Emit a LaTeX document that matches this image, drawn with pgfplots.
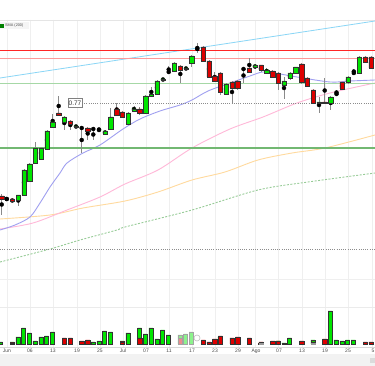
\documentclass[border=0pt]{standalone}
\usepackage{pgfplots}
\pgfplotsset{compat=1.18}
\usepackage{pgfplotstable}
\usepackage{fontspec}
\setmainfont{Liberation Sans}
\definecolor{gup}{HTML}{00E600}
\definecolor{rdn}{HTML}{DD0000}
\definecolor{edge}{HTML}{333333}
\definecolor{wickc}{HTML}{8A8A8A}
\definecolor{smablue}{HTML}{A0A0F0}
\definecolor{smapink}{HTML}{FFB8D8}
\definecolor{smaorange}{HTML}{FFDA9E}
\definecolor{smagreen}{HTML}{98CC98}
\definecolor{trendblue}{HTML}{8AD6F6}
\definecolor{gridc}{HTML}{EFEFEF}
\definecolor{lvlgreenA}{HTML}{A6D8A6}
\definecolor{lvlgreenB}{HTML}{72B872}

% candle wicks: x, top, bottom (pixel y)
\pgfplotstableread{
x t b
1.7 194 215
6.7 198 200
12.3 199 202
18.3 195 206
24 169 196
29.7 163 182
35.3 142 163
41 147 159
47 130 150
52.7 114 128
58.7 96 116
64.3 116 130
70.3 120 130
76 125 128
81.7 127 153
87.7 127 140
93.3 129 140
99 128 131
105 130 135
110.7 108 130
116.7 103 116
122.3 111 118
128.3 112 125
134 106 112
139.7 107 115
145.7 95 114
151.3 87 97
157 80 95
163 78 81
168.7 66 73
174.3 62 72
180.3 65 83
186 67 70
191.7 55 67
197.3 43 53
203.3 46 62
209 60 78
214.7 72 82
220.3 72 95
226 83 95
232 81 103
237.7 80 90
243.5 68 83
249.3 58 72
255 64 69
261 65 72
266.7 68 74
272.7 70 77
278.3 72 90
284 77 99
290 72 80
295.7 67 74
301.7 63 84
307.3 77 87
313.3 89 104
319 97 113
324.7 78 103
330.7 96 110
336.5 90 95
342 82 90
348 76 84
353.8 69 74
359.3 56 74
365.3 56 63
371 56 69
}\wicks

% green bodies: x, top, height
\pgfplotstableread{
x t h
18.3 195 5
24 170 25
29.7 164 17
35.3 148 15
41 148 11
47 131 18
52.7 122 5
64.3 117 5
76 126 1
105 131 3
110.7 117 12
128.3 113 11
134 109 2
145.7 96 17
151.3 94 2
157 81 13
163 79 1.2
174.3 63 8
186 68 1.2
191.7 56 7
226 84 10
255 65 2.5
266.7 70 3
284 81 4
290 73 5
295.7 67 6
319 102 1.2
330.7 97 6
348 77 5
359.3 57 16
}\greens

% red bodies: x, top, height
\pgfplotstableread{
x t h
1.7 196 3
12.3 199 2
58.7 113 2
70.3 121 3
87.7 128 3
116.7 109 6
122.3 112 5
139.7 109 4
180.3 66 4
203.3 47 14
209 61 16
214.7 76 5
220.3 73 19
232 82 6
237.7 81 7
249.3 68 4
261 65 5
272.7 71 6
278.3 73 10
301.7 64 18
307.3 78 8
313.3 90 13
324.7 102 1.2
342 82 7
365.3 57 5
371 57 11
}\reds

% doji: x, y
\pgfplotstableread{
x y
6.7 199
81.7 128
93.3 129
99 130
168.7 72
197.3 49
243.5 69
336.5 94
353.8 73
}\dojis

% volumes: x, v (pixels above baseline)
\pgfplotstableread{
x v
1.7 7
6.7 2
18.3 2
24 7
29.7 16
35.3 11
41 3
47 7
52.7 8
58.7 12
76 1
93.3 1
99 2
105 3
110.7 13
116.7 12
128.3 3
134 11
145.7 16
151.3 10
157 16
163 5
168.7 14
174.3 9
186 9
191.7 10
197.3 12
226 7
243.7 5
266.7 1
284 3
290 1
295.7 6
319 4
330.7 3
336.3 33
342 4
348 3
353.7 4
359.3 4
}\vgreen
\pgfplotstableread{
x v
12.3 1
64.3 6
70.3 6
81.7 3
87.7 4
122.3 2
139.7 6
180.3 6
203.3 4
209 2
214.7 5
220.3 8
232 6
237.7 7
249.3 6
261 2
272.7 3
278.3 3
301.7 3
313.3 2
324.7 5
365.3 2
371 2
}\vred

\pgfplotsset{pix/.style={width=375pt,height=366pt,scale only axis,
  xmin=0,xmax=375,hide axis,at={(0,0)},anchor=south west}}
\tikzset{dl/.style={font=\fontsize{5}{6}\selectfont, text=black!70, inner sep=0pt}}

\begin{document}
\begin{tikzpicture}
\useasboundingbox (0,0) rectangle (375pt,366pt);
% ---------- lines, grid, text ----------
\begin{axis}[pix, ymin=0, ymax=366, y dir=reverse]
% backgrounds
\addplot[fill=white, draw=none] coordinates {(0,0) (375,0) (375,366) (0,366)} -- cycle;
\addplot[fill=black!5, draw=none] coordinates {(0,354) (375,354) (375,366) (0,366)} -- cycle;
\addplot[fill=black!14, draw=none] coordinates {(370,358) (375,358) (375,363) (370,363)} -- cycle;
% vertical grid
\pgfplotsinvokeforeach{7,30,53,77,100,123,146,169,192,215,238,255,278,302,325,348,372}{
  \addplot[gridc, line width=0.6pt] coordinates {(#1,20) (#1,347)};
}
% horizontal panel lines
\addplot[black!10, line width=0.6pt] coordinates {(0,20) (375,20)};
\addplot[black!8, line width=0.6pt] coordinates {(0,307) (375,307)};
\addplot[black!15, line width=0.6pt] coordinates {(0,347) (375,347)};
\addplot[gridc, line width=0.5pt] coordinates {(0,279) (375,279)};
% moving averages
\addplot[smagreen, line width=0.9pt, dashed, dash pattern=on 2pt off 1.5pt, smooth] coordinates {
(0,262) (50,249) (80,240) (117,230) (125,227) (192,210) (258,190) (308,182) (375,173)};
\addplot[smaorange, line width=0.9pt, smooth] coordinates {
(0,219) (50,215) (83,208) (125,201) (158,192) (192,180) (225,172) (258,160) (292,153) (325,148) (375,135)};
\addplot[smapink, line width=0.9pt, smooth] coordinates {
(0,229) (33,223) (67,210) (100,197) (125,184) (158,170) (192,148) (230,129) (263,117) (297,103) (330,93) (375,83)};
\addplot[smablue, line width=0.9pt, smooth] coordinates {
(0,230) (15,225) (30,217) (40,203) (50,187) (60,173) (67,163) (83,153) (100,145) (123,129) (140,119) (160,111) (180,105) (192,100) (208,91) (230,83) (250,76) (263,72) (280,74) (297,77) (330,82) (350,81) (375,80)};
% horizontal levels
\addplot[trendblue, line width=0.8pt] coordinates {(0,78) (375,21)};
\addplot[red!85, line width=0.8pt] coordinates {(0,50) (375,50)};
\addplot[red!40, line width=0.9pt] coordinates {(0,58) (375,58)};
\addplot[lvlgreenA, line width=1.4pt] coordinates {(0,83.5) (375,83.5)};
\addplot[lvlgreenB, line width=1.6pt] coordinates {(0,148) (375,148)};
\addplot[black!45, line width=0.6pt, dash pattern=on 1pt off 1.2pt] coordinates {(82,103) (375,103)};
\addplot[black!45, line width=0.6pt, dash pattern=on 1pt off 1.2pt] coordinates {(0,249) (375,249)};
% wicks
\addplot[only marks, mark=none, error bars/.cd, y dir=both, y explicit, error mark=none,
  error bar style={draw=wickc, line width=0.7pt, solid}]
  table[x=x, y expr={(\thisrow{t}+\thisrow{b})/2}, y error expr={(\thisrow{b}-\thisrow{t})/2}] {\wicks};
% dojis
\addplot[only marks, mark=none, error bars/.cd, x dir=both, x fixed=2, error mark=none,
  error bar style={draw=black!40, line width=0.7pt, solid}]
  table[x=x, y=y] {\dojis};
% labels
\node[draw=black!50, fill=white, line width=0.7pt, minimum width=14pt, minimum height=9.5pt,
  inner sep=0.5pt, font=\fontsize{6.5}{7}\selectfont, text=black!80] at (axis cs:75,103) {0.77};
\addplot[fill=black!4, draw=none] coordinates {(0,22.5) (29,22.5) (29,29.5) (0,29.5)} -- cycle;
\addplot[fill=green!50!black, draw=none] coordinates {(0.3,24.3) (3.5,24.3) (3.5,27.7) (0.3,27.7)} -- cycle;
\node[anchor=west, inner sep=0pt, font=\fontsize{3.8}{4}\selectfont, text=black!70] at (axis cs:5,26) {SMA (200)};
\node[dl] at (axis cs:7,351) {Jun};
\node[dl] at (axis cs:30,351) {06};
\node[dl] at (axis cs:53,351) {13};
\node[dl] at (axis cs:77,351) {19};
\node[dl] at (axis cs:100,351) {25};
\node[dl] at (axis cs:123,351) {Jul};
\node[dl] at (axis cs:146,351) {07};
\node[dl] at (axis cs:169,351) {11};
\node[dl] at (axis cs:192,351) {17};
\node[dl] at (axis cs:215,351) {23};
\node[dl] at (axis cs:238,351) {29};
\node[dl] at (axis cs:256,351) {Ago};
\node[dl] at (axis cs:279,351) {07};
\node[dl] at (axis cs:302,351) {13};
\node[dl] at (axis cs:325,351) {19};
\node[dl] at (axis cs:348,351) {25};
\node[dl, anchor=west] at (axis cs:371.5,351) {5};
\end{axis}
% ---------- green bodies ----------
\begin{axis}[pix, ymin=0, ymax=366, y dir=reverse, ybar stacked, bar width=4.1]
\addplot[draw=none, fill=none] table[x=x, y=t] {\greens};
\addplot[draw=edge, fill=gup, line width=0.5pt] table[x=x, y=h] {\greens};
\end{axis}
% ---------- red bodies ----------
\begin{axis}[pix, ymin=0, ymax=366, y dir=reverse, ybar stacked, bar width=4.1]
\addplot[draw=none, fill=none] table[x=x, y=t] {\reds};
\addplot[draw=edge, fill=rdn, line width=0.5pt] table[x=x, y=h] {\reds};
\end{axis}
% ---------- volume ----------
\begin{axis}[pix, ymin=-22, ymax=344, ybar, bar width=4.1]
\addplot[draw=edge, fill=gup, line width=0.5pt] table[x=x, y=v] {\vgreen};
\addplot[draw=edge, fill=rdn, line width=0.5pt] table[x=x, y=v] {\vred};
\addplot[draw=black!40, fill=black!30, line width=0.5pt] coordinates {(255,0.6) (307.3,0.6)};
\fill[white, opacity=0.55] (axis cs:171,-2) rectangle (axis cs:201,14);
\draw[black!25, line width=0.6pt, fill=white, fill opacity=0.6] (axis cs:197,6) circle (3pt);
\end{axis}
\end{tikzpicture}
\end{document}
